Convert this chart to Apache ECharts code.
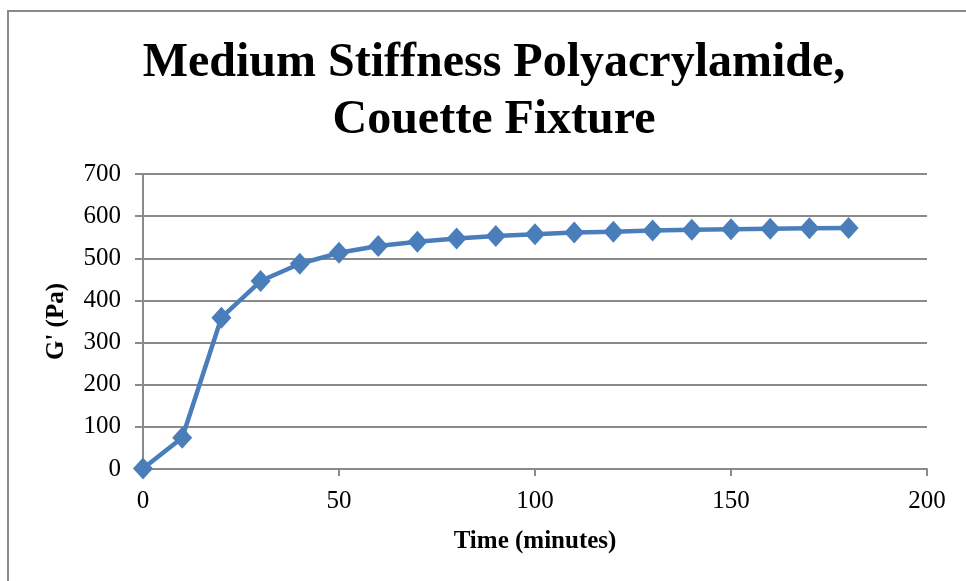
<!DOCTYPE html>
<html>
<head>
<meta charset="utf-8">
<script src="https://cdn.jsdelivr.net/npm/echarts@6/dist/echarts.min.js"></script>
<style>
  html, body { margin: 0; padding: 0; background: #fff; }
  #main { width: 966px; height: 581px; }
</style>
</head>
<body>
<div id="main"></div>
<script>
// time in minutes and storage modulus G' (Pa)
var times = [0, 10, 20, 30, 40, 50, 60, 70, 80, 90, 100, 110, 120, 130, 140, 150, 160, 170, 180];
var gPrime = [1, 74, 359, 446, 487, 513, 529, 539, 547, 553, 557, 561, 563, 566, 568, 569, 570, 571, 572];
var xTicks = [0, 50, 100, 150, 200];
var yTicks = [0, 100, 200, 300, 400, 500, 600, 700];

var serif = "'Liberation Serif', 'Times New Roman', serif";
var gray = '#8a8a8a';

var points = times.map(function (t, i) { return [t, gPrime[i]]; });

var myChart = echarts.init(document.getElementById('main'));

var option = {
  backgroundColor: '#fff',
  animation: false,
  title: {
    text: 'Medium Stiffness Polyacrylamide,\nCouette Fixture',
    left: 489,
    top: 30,
    textAlign: 'center',
    textStyle: {
      fontFamily: serif,
      fontWeight: 'bold',
      fontSize: 48,
      lineHeight: 57,
      color: '#000'
    }
  },
  graphic: [{
    type: 'rect',
    shape: { x: 8, y: 11, width: 1200, height: 1200 },
    style: { fill: 'none', stroke: gray, lineWidth: 2 },
    silent: true
  }],
  grid: { left: 143, right: 39, top: 174, bottom: 112 },
  xAxis: {
    type: 'value',
    min: xTicks[0],
    max: xTicks[xTicks.length - 1],
    interval: 50,
    name: 'Time (minutes)',
    nameLocation: 'middle',
    nameGap: 60,
    nameTextStyle: { fontFamily: serif, fontWeight: 'bold', fontSize: 25, color: '#000' },
    axisLine: { show: true, lineStyle: { color: gray, width: 2 } },
    axisTick: { show: true, length: 7, lineStyle: { color: gray, width: 2 } },
    axisLabel: { fontFamily: serif, fontSize: 25, color: '#000', margin: 20 },
    splitLine: { show: false }
  },
  yAxis: {
    type: 'value',
    min: yTicks[0],
    max: yTicks[yTicks.length - 1],
    interval: 100,
    name: "G' (Pa)",
    nameLocation: 'middle',
    nameRotate: 90,
    nameGap: 74,
    nameTextStyle: { fontFamily: serif, fontWeight: 'bold', fontSize: 25, color: '#000' },
    axisLine: { show: true, lineStyle: { color: gray, width: 2 } },
    axisTick: { show: true, length: 8, lineStyle: { color: gray, width: 2 } },
    axisLabel: { fontFamily: serif, fontSize: 25, color: '#000', margin: 22 },
    splitLine: { show: true, lineStyle: { color: gray, width: 2 } }
  },
  series: [{
    type: 'line',
    data: points,
    symbol: 'diamond',
    symbolSize: [20, 22],
    itemStyle: { color: '#4a7ebb' },
    lineStyle: { color: '#4a7ebb', width: 4.5 }
  }]
};

myChart.setOption(option);
</script>
</body>
</html>
